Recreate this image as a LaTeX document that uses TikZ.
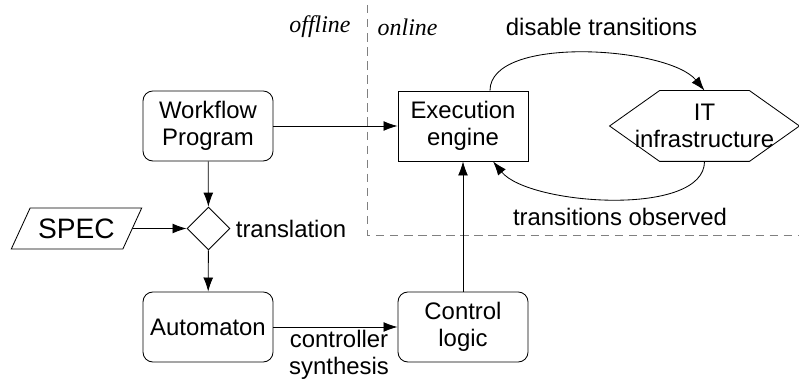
\documentclass[tikz,border=0pt]{standalone}
\usepackage{fontspec}
\setmainfont{Liberation Sans}
\newfontfamily\serifit{Liberation Serif}
\usetikzlibrary{shapes.geometric,arrows.meta}

\tikzset{
  rbox/.style={draw,rounded corners=7pt,minimum width=3.25cm,minimum height=1.75cm,align=center,inner sep=0pt},
  sbox/.style={draw,minimum width=3.25cm,minimum height=1.75cm,align=center,inner sep=0pt},
  hexbox/.style={minimum width=4.725cm,minimum height=1.75cm,align=center,inner sep=0pt},
  iobox/.style={draw,trapezium,trapezium left angle=52,trapezium right angle=128,trapezium stretches=true,
    minimum width=3.275cm,minimum height=1.025cm,inner sep=0pt,font=\fontsize{20}{24}\selectfont},
  decide/.style={draw,diamond,aspect=1,minimum width=1.075cm,minimum height=1.075cm,inner sep=0pt},
  phase/.style={font=\fontsize{17}{19}\serifit\itshape}
}

\begin{document}
\begin{tikzpicture}[line width=0.6pt,>={Latex[length=10pt,width=7pt]},
  every node/.style={font=\fontsize{17}{19.2}\selectfont}]
\useasboundingbox (0,0) rectangle (19.975,9.525);
% offline / online border
\draw[gray,dash pattern=on 6pt off 4pt] (9.175,9.4) -- (9.175,3.65) -- (19.975,3.65);
\node[phase] (off) at (8.0,8.85) {offline};
\node[phase] (on) at (10.19,8.85) {online};

\node[rbox] (wf) at (5.2,6.375) {Workflow\\Program};
\node[sbox] (exe) at (11.575,6.375) {Execution\\engine};
\node[hexbox] (it) at (17.6125,6.375) {IT\\infrastructure};
\draw (it.west) -- ([xshift=1.25cm]it.north west) -- ([xshift=-1.25cm]it.north east) -- (it.east)
  -- ([xshift=-1.25cm]it.south east) -- ([xshift=1.25cm]it.south west) -- cycle;
\node[decide] (tr) at (5.2125,3.8125) {};
\node[iobox] (spec) at (1.9125,3.8125) {SPEC};
\node[rbox] (aut) at (5.2,1.35) {Automaton};
\node[rbox] (ctl) at (11.575,1.35) {Control\\logic};

\node (trl) at (7.275,3.8125) {translation};
\node[align=center] (syn) at (8.475,0.65) {controller\\synthesis};
\node (dis) at (15.04,8.85) {disable transitions};
\node (obs) at (15.5,4.1) {transitions observed};

\draw[->] (wf) -- (exe);
\draw[->] (wf) -- (tr);
\draw[->] (spec) -- (tr);
\draw[->] (tr) -- (aut);
\draw[->] (aut) -- (ctl);
\draw[->] (ctl) -- (exe);
\draw[->] ([xshift=0.675cm]exe.north) .. controls +(0,1.4) and +(-0.9,1.1) .. (it.north);
\draw[->] (it.south) .. controls +(0,-1.4) and +(0.9,-1.1) .. ([xshift=0.75cm]exe.south);
\end{tikzpicture}
\end{document}
